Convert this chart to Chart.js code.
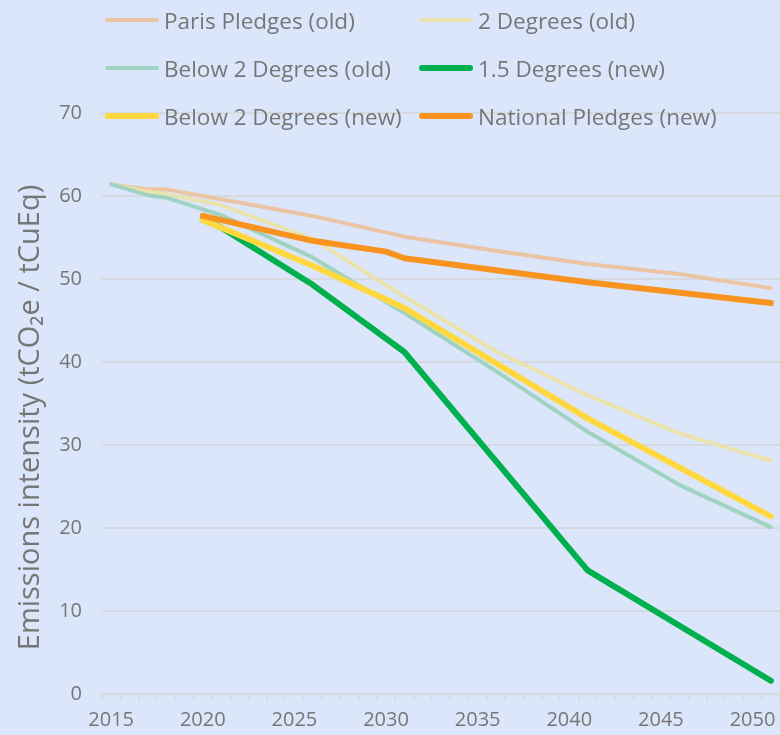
<!DOCTYPE html>
<html>
<head>
<meta charset="utf-8">
<script src="https://cdn.jsdelivr.net/npm/chart.js@4.4.1/dist/chart.umd.min.js"></script>
<style>
  html, body { margin: 0; padding: 0; background: #dce6fa; }
  #wrap { position: relative; width: 780px; height: 735px; overflow: hidden; }
  #legend { position: absolute; left: 0; top: 0; font-family: 'Open Sans', sans-serif; font-size: 22.5px; color: #767676; }
  .item { position: absolute; display: flex; align-items: center; height: 28px; white-space: nowrap; }
  .item span.sw { display: inline-block; width: 54px; border-radius: 3px; margin-right: 5px; }
</style>
</head>
<body>
<div id="wrap">
  <canvas id="chart" width="780" height="735"></canvas>
  <div id="legend"></div>
</div>
<script>
// categories
const years = ['2015','2016','2017','2018','2019','2020','2021','2022','2023','2024','2025',
  '2026','2027','2028','2029','2030','2031','2032','2033','2034','2035','2036','2037','2038',
  '2039','2040','2041','2042','2043','2044','2045','2046','2047','2048','2049','2050','2051'];
const yTicks = [0, 10, 20, 30, 40, 50, 60, 70];

// old scenarios
const oldYears = ['2015','2017','2018','2021','2026','2031','2036','2041','2046','2051'];
const parisOld = [61.4, 60.8, 60.8, 59.6, 57.6, 55.1, 53.4, 51.8, 50.6, 48.9];
const twoDegOld = [61.4, 60.5, 60.2, 58.9, 54.8, 47.9, 41.3, 36.0, 31.4, 28.1];
const below2Old = [61.4, 60.1, 59.8, 57.7, 52.6, 45.9, 38.9, 31.6, 25.2, 20.1];

// new scenarios
const onePointFiveYears = ['2020','2021','2026','2031','2041','2051'];
const onePointFiveNew = [57.2, 56.2, 49.3, 41.2, 14.9, 1.6];
const below2NewYears = ['2020','2026','2031','2041','2051'];
const below2New = [57.1, 51.6, 46.5, 33.2, 21.4];
const nationalYears = ['2020','2026','2030','2031','2041','2051'];
const nationalNew = [57.6, 54.6, 53.3, 52.5, 49.6, 47.1];

const yTitle = 'Emissions intensity (tCO\u2082e / tCuEq)';

function pts(xs, ys) {
  return xs.map(function (x, k) { return { x: x, y: ys[k] }; });
}

const series = [
  { label: 'Paris Pledges (old)', data: pts(oldYears, parisOld), color: '#eac4a3', w: 4 },
  { label: '2 Degrees (old)', data: pts(oldYears, twoDegOld), color: '#ebe3ae', w: 4 },
  { label: 'Below 2 Degrees (old)', data: pts(oldYears, below2Old), color: '#a0d2c2', w: 4 },
  { label: '1.5 Degrees (new)', data: pts(onePointFiveYears, onePointFiveNew), color: '#00b04f', w: 6 },
  { label: 'Below 2 Degrees (new)', data: pts(below2NewYears, below2New), color: '#ffd83f', w: 6 },
  { label: 'National Pledges (new)', data: pts(nationalYears, nationalNew), color: '#f8931f', w: 6 }
];

const txt = '#767676';
const grid = '#d6d9e0';

// y title drawn by hand so it can sit a bit lower than the centre of the axis
const yTitlePlugin = {
  id: 'yTitle',
  afterDraw: function (c) {
    const ctx = c.ctx;
    const a = c.chartArea;
    ctx.save();
    ctx.translate(31, (a.top + a.bottom) / 2 + 14);
    ctx.rotate(-Math.PI / 2);
    ctx.fillStyle = txt;
    ctx.font = '29px "Open Sans"';
    ctx.textAlign = 'center';
    ctx.textBaseline = 'middle';
    ctx.fillText(yTitle, 0, 0);
    ctx.restore();
  }
};

const chart = new Chart(document.getElementById('chart'), {
  type: 'line',
  data: {
    labels: years,
    datasets: series.map(function (s, i) {
      return {
        label: s.label,
        data: s.data,
        borderColor: s.color,
        backgroundColor: s.color,
        borderWidth: s.w,
        pointRadius: 0,
        tension: 0,
        spanGaps: true,
        borderJoinStyle: 'round',
        borderCapStyle: 'round',
        order: series.length - i
      };
    })
  },
  options: {
    responsive: false,
    animation: false,
    layout: { padding: { top: 113, right: 0, left: 0, bottom: 0 } },
    plugins: { legend: { display: false }, tooltip: { enabled: false } },
    scales: {
      x: {
        type: 'category',
        offset: true,
        grid: { offset: true, drawOnChartArea: false, drawTicks: true, tickLength: 6, color: grid, lineWidth: 1.5 },
        border: { display: true, color: grid, width: 2 },
        ticks: {
          autoSkip: false, maxRotation: 0, padding: 8,
          color: txt, font: { family: 'Open Sans', size: 20 },
          callback: function (v, i) { return (i % 5 === 0) ? years[i] : ''; }
        },
        afterFit: function (scale) { scale.height = 41; }
      },
      y: {
        min: 0, max: 70,
        afterBuildTicks: function (scale) {
          scale.ticks = yTicks.map(function (v) { return { value: v }; });
        },
        ticks: { padding: 20, color: txt, font: { family: 'Open Sans', size: 20 } },
        grid: { color: grid, lineWidth: 2, drawTicks: false },
        border: { display: false },
        afterFit: function (scale) { scale.width = 102; }
      }
    }
  },
  plugins: [yTitlePlugin]
});

// html legend built from the datasets
const legend = document.getElementById('legend');
const cols = [105, 419];
const rows = [20, 68, 116];
chart.data.datasets.forEach(function (ds, i) {
  const item = document.createElement('div');
  item.className = 'item';
  item.style.left = cols[i % 2] + 'px';
  item.style.top = (rows[Math.floor(i / 2)] - 14) + 'px';
  const sw = document.createElement('span');
  sw.className = 'sw';
  sw.style.height = ds.borderWidth + 'px';
  sw.style.background = ds.borderColor;
  item.appendChild(sw);
  item.appendChild(document.createTextNode(ds.label));
  legend.appendChild(item);
});
</script>
</body>
</html>
